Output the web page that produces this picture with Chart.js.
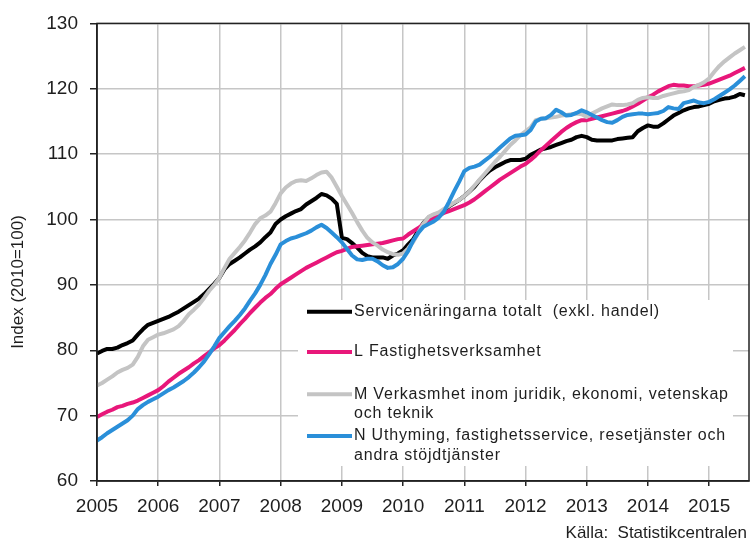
<!DOCTYPE html>
<html>
<head>
<meta charset="utf-8">
<script src="https://cdn.jsdelivr.net/npm/chart.js@4.4.0/dist/chart.umd.min.js"></script>
<style>
  html, body { margin: 0; padding: 0; background: #fff; }
  #wrap { width: 750px; height: 542px; }
</style>
</head>
<body>
<div id="wrap"><canvas id="indexChart" width="750" height="542"></canvas></div>
<script>
// Tick labels (one per January)
const years = ['2005', '2006', '2007', '2008', '2009', '2010', '2011', '2012', '2013', '2014', '2015'];

// Monthly index values, Jan 2005 - Aug 2015 (2010=100)
const totalt = [
  79.5, 79.9, 80.2, 80.2, 80.4, 80.8, 81.1, 81.5, 82.4, 83.2, 83.9, 84.2,
  84.5, 84.8, 85.1, 85.5, 85.9, 86.4, 86.9, 87.4, 87.9, 88.6, 89.4, 90.2,
  91.1, 92.4, 93.2, 93.7, 94.2, 94.8, 95.4, 95.9, 96.5, 97.3, 98.0, 99.3,
  100.0, 100.5, 100.9, 101.3, 101.6, 102.3, 102.8, 103.3, 103.9, 103.7, 103.2, 102.4,
  97.2, 97.0, 96.4, 95.7, 94.9, 94.4, 94.2, 94.2, 94.2, 94.0, 94.5, 94.8,
  95.3, 96.2, 97.0, 98.3, 99.5, 100.3, 100.7, 100.9, 101.4, 102.0, 102.5, 103.0,
  103.6, 104.3, 105.0, 106.0, 106.8, 107.5, 108.0, 108.4, 108.8, 109.1, 109.1, 109.1,
  109.3, 109.9, 110.3, 110.7, 110.9, 111.1, 111.4, 111.7, 112.0, 112.2, 112.6, 112.8,
  112.6, 112.2, 112.1, 112.1, 112.1, 112.1, 112.3, 112.4, 112.5, 112.6, 113.5, 114.0,
  114.4, 114.2, 114.2, 114.7, 115.3, 115.9, 116.3, 116.7, 117.0, 117.2, 117.3, 117.5,
  117.7, 118.1, 118.3, 118.5, 118.6, 118.8, 119.2, 119.0
];

const fastighet = [
  69.8, 70.2, 70.6, 70.9, 71.3, 71.5, 71.8, 72.0, 72.3, 72.7, 73.1, 73.5,
  73.9, 74.5, 75.2, 75.8, 76.4, 76.9, 77.4, 78.0, 78.5, 79.1, 79.7, 80.3,
  80.8, 81.5, 82.3, 83.1, 84.0, 84.8, 85.7, 86.5, 87.3, 88.0, 88.6, 89.4,
  90.1, 90.6, 91.1, 91.6, 92.1, 92.6, 93.0, 93.4, 93.8, 94.2, 94.6, 95.0,
  95.2, 95.5, 95.8, 95.9, 96.0, 96.1, 96.2, 96.3, 96.4, 96.6, 96.8, 97.0,
  97.1, 97.7, 98.2, 98.7, 99.3, 99.9, 100.3, 100.6, 101.0, 101.3, 101.6, 101.9,
  102.2, 102.6, 103.1, 103.7, 104.3, 104.9, 105.5, 106.1, 106.6, 107.1, 107.6, 108.1,
  108.5, 109.1, 109.8, 110.6, 111.3, 112.0, 112.7, 113.4, 114.0, 114.5, 114.9, 115.2,
  115.2, 115.4, 115.6, 115.8, 116.0, 116.2, 116.4, 116.6, 116.9, 117.3, 117.7, 118.2,
  118.7, 119.1, 119.6, 120.0, 120.4, 120.6, 120.5, 120.5, 120.4, 120.4, 120.5, 120.6,
  120.8, 121.1, 121.4, 121.7, 122.0, 122.4, 122.8, 123.2
];

const juridik = [
  74.6, 75.0, 75.5, 76.0, 76.6, 77.0, 77.3, 77.8, 79.0, 80.6, 81.6, 82.0,
  82.4, 82.6, 82.9, 83.2, 83.7, 84.5, 85.5, 86.2, 87.0, 88.0, 89.1, 90.0,
  91.1, 92.6, 94.0, 94.9, 95.8, 96.8, 98.0, 99.3, 100.2, 100.6, 101.2, 102.5,
  104.0, 104.9, 105.5, 105.9, 106.0, 105.9, 106.3, 106.8, 107.2, 107.3, 106.4, 105.0,
  103.6, 102.3, 101.0, 99.6, 98.3, 97.2, 96.5, 96.0, 95.4, 95.0, 94.7, 94.6,
  94.8, 95.6, 96.6, 98.0, 99.4, 100.4, 100.8, 101.1, 101.6, 102.1, 102.6, 103.0,
  103.6, 104.3, 105.2, 106.1, 107.0, 107.9, 108.8, 109.6, 110.5, 111.4, 112.1, 112.9,
  113.5, 114.1, 115.2, 115.4, 115.5, 115.6, 115.7, 115.9, 116.0, 116.1, 116.2, 116.1,
  115.7, 116.2, 116.6, 117.0, 117.3, 117.6, 117.5, 117.5, 117.6, 117.8, 118.3, 118.6,
  118.7, 118.6, 118.6, 118.9, 119.1, 119.3, 119.5, 119.6, 119.8, 120.3, 120.6, 121.0,
  121.6, 122.6, 123.5, 124.2, 124.8, 125.4, 125.9, 126.4
];

const uthyrning = [
  66.2, 66.7, 67.3, 67.8, 68.3, 68.8, 69.3, 70.0, 71.0, 71.6, 72.1, 72.5,
  72.9, 73.4, 73.9, 74.3, 74.8, 75.3, 75.9, 76.6, 77.4, 78.3, 79.4, 80.6,
  81.9, 82.8, 83.7, 84.5, 85.4, 86.4, 87.6, 88.7, 90.0, 91.5, 93.2, 94.6,
  96.2, 96.7, 97.1, 97.3, 97.6, 97.9, 98.3, 98.8, 99.2, 98.7, 98.0, 97.3,
  96.5, 95.5, 94.5, 93.9, 93.8, 94.0, 94.0, 93.6, 93.0, 92.6, 92.7, 93.2,
  94.0, 95.2, 96.8, 98.0, 98.9, 99.3, 99.7, 100.3, 101.2, 102.7, 104.3, 105.8,
  107.4, 107.9, 108.1, 108.4, 109.0, 109.6, 110.3, 111.0, 111.7, 112.4, 112.8, 112.9,
  113.0, 113.7, 115.0, 115.4, 115.5, 116.0, 116.8, 116.4, 115.9, 116.0, 116.3, 116.7,
  116.4, 116.0, 115.6, 115.2, 114.9, 114.8, 115.2, 115.7, 116.0, 116.1, 116.2, 116.2,
  116.1, 116.2, 116.3, 116.6, 117.2, 117.0, 116.9, 117.8, 118.0, 118.2, 117.9, 117.8,
  118.0, 118.4, 118.9, 119.4, 119.9, 120.5, 121.2, 121.9
];

const seriesNames = [
  ['Servicenäringarna totalt  (exkl. handel)'],
  ['L Fastighetsverksamhet'],
  ['M Verkasmhet inom juridik, ekonomi, vetenskap', 'och teknik'],
  ['N Uthyming, fastighetsservice, resetjänster och', 'andra stöjdtjänster']
];
const seriesColors = ['#000000', '#e8177a', '#c4c4c4', '#2a8fd9'];
const axisTitle = 'Index (2010=100)';
const sourceText = 'Källa:  Statistikcentralen';

const FONT = "'Liberation Sans', Arial, sans-serif";
const TEXT = '#1e1e1e';

function toPoints(arr) {
  return arr.map(function(v, i) { return { x: i, y: v }; });
}

// legend box, y-axis title, source line and plot frame
const overlay = {
  id: 'overlay',
  beforeDatasetsDraw(chart) {
    const ctx = chart.ctx;
    ctx.save();
    ctx.fillStyle = '#ffffff';
    ctx.fillRect(298, 300, 435, 166);

    const rows = [311.7, 352, 394.3, 436];
    ctx.font = '16px ' + FONT;
    if ('letterSpacing' in ctx) ctx.letterSpacing = '0.8px';
    ctx.textBaseline = 'middle';
    ctx.textAlign = 'left';
    seriesNames.forEach(function(lines, i) {
      ctx.strokeStyle = seriesColors[i];
      ctx.lineWidth = 4;
      ctx.lineCap = 'butt';
      ctx.beginPath();
      ctx.moveTo(307, rows[i]);
      ctx.lineTo(352, rows[i]);
      ctx.stroke();
      ctx.fillStyle = TEXT;
      lines.forEach(function(t, j) {
        ctx.fillText(t, 354, rows[i] + j * 19.5);
      });
    });
    ctx.restore();
  },
  afterDraw(chart) {
    const ctx = chart.ctx;
    const a = chart.chartArea;
    ctx.save();
    ctx.strokeStyle = '#222';
    ctx.lineWidth = 1.5;
    ctx.strokeRect(a.left, a.top, a.right - a.left, a.bottom - a.top);

    ctx.fillStyle = TEXT;
    ctx.font = '17px ' + FONT;
    ctx.textAlign = 'center';
    ctx.textBaseline = 'middle';
    ctx.translate(18.5, 282);
    ctx.rotate(-Math.PI / 2);
    ctx.fillText(axisTitle, 0, 0);
    ctx.restore();

    ctx.save();
    ctx.fillStyle = TEXT;
    ctx.font = '17px ' + FONT;
    ctx.textAlign = 'right';
    ctx.textBaseline = 'middle';
    ctx.fillText(sourceText, 747, 533);
    ctx.restore();
  }
};

const series = [totalt, fastighet, juridik, uthyrning];

new Chart(document.getElementById('indexChart').getContext('2d'), {
  type: 'line',
  data: {
    datasets: series.map(function(arr, i) {
      return {
        label: seriesNames[i].join(' '),
        data: toPoints(arr),
        borderColor: seriesColors[i],
        borderWidth: 4,
        pointRadius: 0,
        tension: 0,
        fill: false,
        borderJoinStyle: 'round',
        order: 3 - i
      };
    })
  },
  options: {
    responsive: false,
    animation: false,
    devicePixelRatio: 1,
    layout: { padding: { top: 23, right: 1, left: 0, bottom: 0 } },
    plugins: {
      legend: { display: false },
      tooltip: { enabled: false }
    },
    scales: {
      x: {
        type: 'linear',
        min: 0,
        max: 127.8,
        afterBuildTicks: function(scale) {
          scale.ticks = years.map(function(y, i) { return { value: i * 12 }; });
        },
        afterFit: function(scale) { scale.height = 61; },
        grid: {
          color: '#c6c6c6',
          lineWidth: 1.5,
          tickColor: '#222',
          tickLength: 5
        },
        border: { color: '#222', width: 1.5 },
        ticks: {
          padding: 9,
          maxRotation: 0,
          autoSkip: false,
          color: TEXT,
          font: { family: FONT, size: 19 },
          callback: function(v) { return years[Math.round(v / 12)]; }
        }
      },
      y: {
        min: 60,
        max: 130,
        afterFit: function(scale) { scale.width = 97; },
        grid: {
          color: '#c6c6c6',
          lineWidth: 1.5,
          tickColor: '#222',
          tickLength: 7
        },
        border: { color: '#222', width: 1.5 },
        ticks: {
          stepSize: 10,
          padding: 12,
          color: TEXT,
          font: { family: FONT, size: 19 }
        }
      }
    }
  },
  plugins: [overlay]
});
</script>
</body>
</html>
